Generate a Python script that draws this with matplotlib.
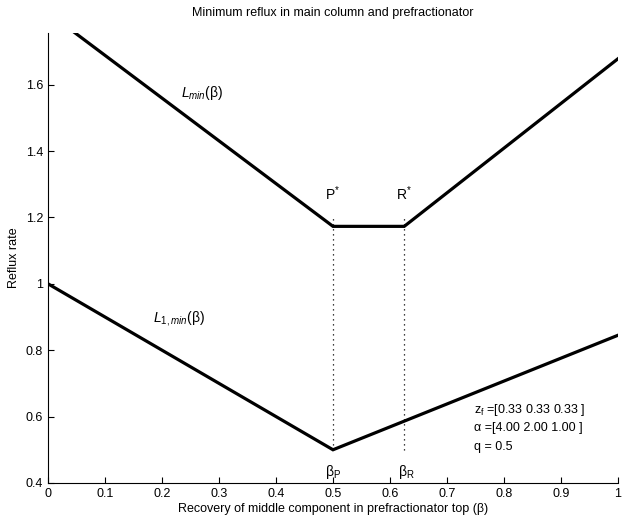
import matplotlib
matplotlib.use("Agg")
import matplotlib.pyplot as plt

# data
beta_main = [0.0, 0.5, 0.625, 1.0]
L_main = [1.817, 1.173, 1.173, 1.678]

beta_pre = [0.0, 0.5, 1.0]
L_pre = [1.0, 0.5, 0.845]

beta_P = 0.5
beta_R = 0.625
dot_lo, dot_hi = 0.5, 1.2

xticks = [0, 0.1, 0.2, 0.3, 0.4, 0.5, 0.6, 0.7, 0.8, 0.9, 1]
xticklabels = ["0", "0.1", "0.2", "0.3", "0.4", "0.5", "0.6", "0.7", "0.8", "0.9", "1"]
yticks = [0.4, 0.6, 0.8, 1.0, 1.2, 1.4, 1.6]
yticklabels = ["0.4", "0.6", "0.8", "1", "1.2", "1.4", "1.6"]

plt.rcParams['font.family'] = ['Liberation Sans', 'DejaVu Sans']
plt.rcParams['mathtext.fontset'] = 'custom'
plt.rcParams['mathtext.rm'] = 'Liberation Sans'
plt.rcParams['mathtext.it'] = 'Liberation Sans:italic'

fig = plt.figure(figsize=(6.23, 5.21), dpi=100)
ax = fig.add_axes([0.077, 0.073, 0.915, 0.864])

ax.plot(beta_main, L_main, color='black', lw=2.3, solid_joinstyle='miter')
ax.plot(beta_pre, L_pre, color='black', lw=2.3, solid_joinstyle='miter')
ax.plot([beta_P, beta_P], [dot_lo, dot_hi], color='black', lw=0.9, ls=(0, (1, 3)))
ax.plot([beta_R, beta_R], [dot_lo, dot_hi], color='black', lw=0.9, ls=(0, (1, 3)))

ax.set_xlim(0, 1)
ax.set_ylim(0.4, 1.756)
ax.set_xticks(xticks)
ax.set_xticklabels(xticklabels)
ax.set_yticks(yticks)
ax.set_yticklabels(yticklabels)
ax.tick_params(direction='in', length=4, labelsize=9, width=0.8)
ax.spines['top'].set_visible(False)
ax.spines['right'].set_visible(False)

fs = 9
ax.text(0.27, 1.576, r'$\mathit{L}_{\mathit{min}}$(β)', fontsize=10, ha='center', va='center')
ax.text(0.23, 0.895, r'$\mathit{L}_{\mathit{1,min}}$(β)', fontsize=10, ha='center', va='center')
ax.text(0.5, 1.27, r'P$^{*}$', fontsize=10, ha='center', va='center')
ax.text(0.625, 1.27, r'R$^{*}$', fontsize=10, ha='center', va='center')
ax.text(0.5, 0.433, r'β$_{\mathrm{P}}$', fontsize=10, ha='center', va='center')
ax.text(0.628, 0.433, r'β$_{\mathrm{R}}$', fontsize=10, ha='center', va='center')
ax.text(0.748, 0.62, r'z$_{\mathrm{f}}$ =[0.33 0.33 0.33 ]', fontsize=fs, ha='left', va='center')
ax.text(0.748, 0.565, 'α =[4.00 2.00 1.00 ]', fontsize=fs, ha='left', va='center')
ax.text(0.748, 0.508, 'q = 0.5', fontsize=fs, ha='left', va='center')

ax.set_title('Minimum reflux in main column and prefractionator', fontsize=9, pad=12)
ax.set_xlabel('Recovery of middle component in prefractionator top (β)', fontsize=9, labelpad=2)
ax.set_ylabel('Reflux rate', fontsize=9, labelpad=4)

fig.savefig('out.png', dpi=100)
